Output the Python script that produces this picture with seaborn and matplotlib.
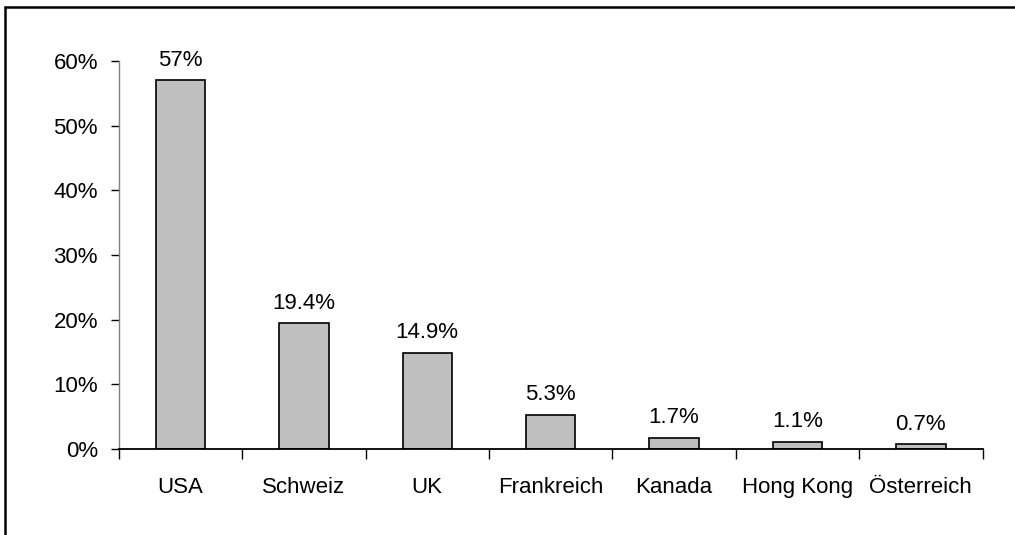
import numpy as np
import pandas as pd
import matplotlib.pyplot as plt
import seaborn as sns
from matplotlib.lines import Line2D
from matplotlib.ticker import PercentFormatter

# Data
laender = ['USA', 'Schweiz', 'UK', 'Frankreich', 'Kanada', 'Hong Kong', 'Österreich']
anteile = [57, 19.4, 14.9, 5.3, 1.7, 1.1, 0.7]
beschriftung = ['57%', '19.4%', '14.9%', '5.3%', '1.7%', '1.1%', '0.7%']

df = pd.DataFrame({'Land': laender, 'Anteil': anteile})

sns.set_style('white')
plt.rcParams['font.family'] = ['Liberation Sans', 'DejaVu Sans']
plt.rcParams['text.color'] = 'black'
plt.rcParams['xtick.color'] = 'black'
plt.rcParams['ytick.color'] = 'black'
plt.rcParams['xtick.labelcolor'] = 'black'
plt.rcParams['ytick.labelcolor'] = 'black'

fs = 16

fig = plt.figure(figsize=(10.15, 5.35), dpi=100)
ax = fig.add_axes([0.117, 0.161, 0.851, 0.725])

sns.barplot(data=df, x='Land', y='Anteil', color='#C0C0C0', edgecolor='black',
            linewidth=1.2, width=0.4, saturation=1, ax=ax)

ax.bar_label(ax.containers[0], labels=beschriftung, padding=7, fontsize=fs, color='black')

# Axes styling (Excel look)
ax.set_ylim(0, 60)
ax.set_xlim(-0.5, len(laender) - 0.5)
ax.set_yticks(np.arange(0, 61, 10))
ax.yaxis.set_major_formatter(PercentFormatter(decimals=0))
ax.set_xlabel('')
ax.set_ylabel('')

ax.set_xticks(np.arange(-0.5, len(laender), 1), minor=True)
ax.tick_params(axis='x', which='major', length=0, pad=20, labelsize=fs)
ax.tick_params(axis='x', which='minor', length=7, width=1, color='black', direction='out', bottom=True)
ax.tick_params(axis='y', length=6, width=1, color='black', direction='out', left=True, pad=9, labelsize=fs)

for s in ['top', 'right']:
    ax.spines[s].set_visible(False)
ax.spines['left'].set_color('#808080')
ax.spines['left'].set_linewidth(1)
ax.spines['bottom'].set_color('black')
ax.spines['bottom'].set_linewidth(1.3)

# Outer frame (top and left only visible)
fig.add_artist(Line2D([5 / 1015, 1], [1 - 7 / 535, 1 - 7 / 535], color='black', lw=1.8, transform=fig.transFigure))
fig.add_artist(Line2D([5 / 1015, 5 / 1015], [0, 1 - 7 / 535], color='black', lw=1.8, transform=fig.transFigure))

plt.savefig('out.png', dpi=100)
